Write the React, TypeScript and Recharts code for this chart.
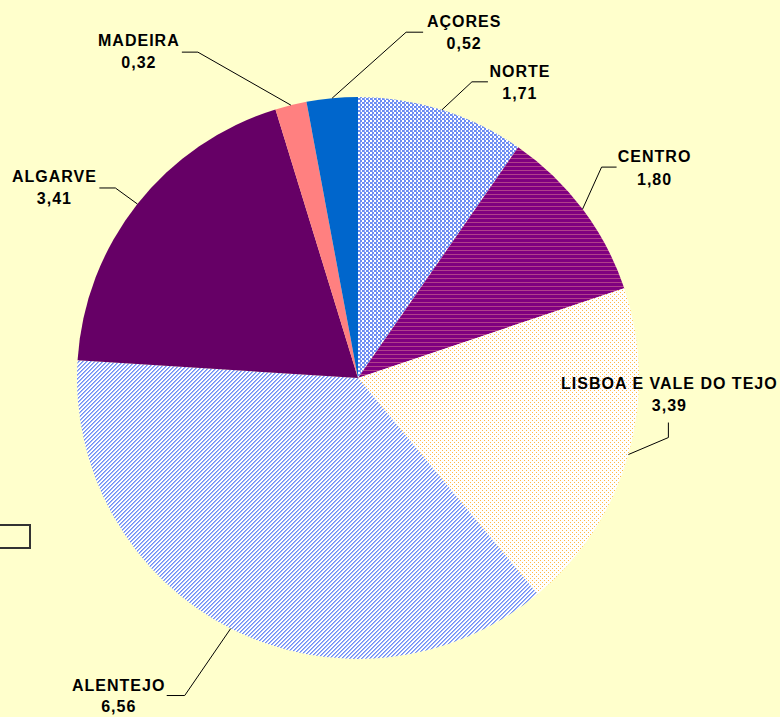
import React from 'react';
import { PieChart, Pie, Cell } from 'recharts';

// regions and their values
const regions = ['NORTE', 'CENTRO', 'LISBOA E VALE DO TEJO', 'ALENTEJO', 'ALGARVE', 'MADEIRA', 'AÇORES'];
const values = [1.71, 1.8, 3.39, 6.56, 3.41, 0.32, 0.52];

// fills: patterns are defined in the hidden svg below
const fills = [
  'url(#pNorte)',
  'url(#pCentro)',
  'url(#pLisboa)',
  'url(#pAlentejo)',
  '#660066',
  '#FF8080',
  '#0066CC',
];

// label layout, relative to where the leader leaves the slice edge
// e = elbow offset, t = tail offset from elbow, n/v = name / value text position from elbow
const labelLayout = [
  { ex: 30, ey: -28, tx: 16, ty: 0, nx: 48, nb: -5, vx: 48, vb: 17 },
  { ex: 19, ey: -42, tx: 15, ty: 0, nx: 53, nb: -5, vx: 53, vb: 18 },
  { ex: 40, ey: -17, tx: 0, ty: -15, nx: 1, nb: -49, vx: 1, vb: -27 },
  { ex: -46, ey: 67, tx: -18, ty: 0, nx: -66, nb: -5, vx: -66, vb: 16 },
  { ex: -22, ey: -16, tx: -16, ty: 0, nx: -61, nb: -6, vx: -61, vb: 16 },
  { ex: -93, ey: -53, tx: -16, ty: 0, nx: -59, nb: -6, vx: -59, vb: 16 },
  { ex: 74, ey: -66, tx: 17, ty: 0, nx: 58, nb: -5, vx: 58, vb: 17 },
];

const data = regions.map((name, i) => ({ name, value: values[i] }));

const RAD = Math.PI / 180;

const renderLabel = (props: any) => {
  const { cx, cy, midAngle, outerRadius, index, name, value } = props;
  const lay = labelLayout[index];
  const sx = cx + outerRadius * Math.cos(-midAngle * RAD);
  const sy = cy + outerRadius * Math.sin(-midAngle * RAD);
  const ex = sx + lay.ex;
  const ey = sy + lay.ey;
  const textStyle = {
    fontFamily: '"Liberation Sans", Arial, sans-serif',
    fontWeight: 700,
    fontSize: 16,
    letterSpacing: 1,
  };
  return (
    <g key={`lbl-${index}`}>
      <polyline
        points={`${sx},${sy} ${ex},${ey} ${ex + lay.tx},${ey + lay.ty}`}
        fill="none"
        stroke="#000"
        strokeWidth={1}
      />
      <text x={ex + lay.nx} y={ey + lay.nb} textAnchor="middle" fill="#000" style={textStyle}>
        {name}
      </text>
      <text x={ex + lay.vx} y={ey + lay.vb} textAnchor="middle" fill="#000" style={textStyle}>
        {Number(value).toFixed(2).replace('.', ',')}
      </text>
    </g>
  );
};

export default function App() {
  return (
    <div
      style={{
        position: 'absolute',
        left: 0,
        top: 0,
        width: 780,
        height: 717,
        background: '#FFFFCC',
        overflow: 'hidden',
      }}
    >
      <svg width={0} height={0} style={{ position: 'absolute' }}>
        <defs>
          <pattern id="pNorte" width={4} height={4} patternUnits="userSpaceOnUse">
            <rect width={4} height={4} fill="#FFFFFF" />
            <rect x={0} y={0} width={2} height={2} fill="#6C8CF2" shapeRendering="crispEdges" />
            <rect x={2} y={2} width={2} height={2} fill="#6C8CF2" shapeRendering="crispEdges" />
            <rect x={0} y={2} width={1} height={2} fill="#8FA8F5" shapeRendering="crispEdges" />
          </pattern>
          <pattern id="pCentro" width={4} height={4} patternUnits="userSpaceOnUse">
            <rect width={4} height={4} fill="#800080" shapeRendering="crispEdges" />
            <rect x={0} y={2} width={4} height={1} fill="#B0408A" shapeRendering="crispEdges" />
          </pattern>
          <pattern id="pLisboa" width={4} height={4} patternUnits="userSpaceOnUse">
            <rect width={4} height={4} fill="#FFFFFF" />
            <rect x={0} y={0} width={1} height={1} fill="#FFB848" shapeRendering="crispEdges" />
            <rect x={2} y={2} width={1} height={1} fill="#FFB848" shapeRendering="crispEdges" />
          </pattern>
          <pattern id="pAlentejo" width={4} height={4} patternUnits="userSpaceOnUse">
            <rect width={4} height={4} fill="#FFFFFF" />
            <rect x={3} y={0} width={1} height={1} fill="#6F8EF5" shapeRendering="crispEdges" />
            <rect x={2} y={1} width={1} height={1} fill="#6F8EF5" shapeRendering="crispEdges" />
            <rect x={1} y={2} width={1} height={1} fill="#6F8EF5" shapeRendering="crispEdges" />
            <rect x={0} y={3} width={1} height={1} fill="#6F8EF5" shapeRendering="crispEdges" />
            <rect x={0} y={0} width={1} height={1} fill="#9FB4F8" shapeRendering="crispEdges" />
            <rect x={3} y={1} width={1} height={1} fill="#9FB4F8" shapeRendering="crispEdges" />
            <rect x={2} y={2} width={1} height={1} fill="#9FB4F8" shapeRendering="crispEdges" />
            <rect x={1} y={3} width={1} height={1} fill="#9FB4F8" shapeRendering="crispEdges" />
          </pattern>
        </defs>
      </svg>

      {/* leftover legend box at the left edge */}
      <div
        style={{
          position: 'absolute',
          left: -4,
          top: 524,
          width: 31,
          height: 21,
          border: '2px solid #333',
        }}
      />

      <PieChart width={780} height={717} margin={{ top: 0, right: 0, bottom: 0, left: 0 }}>
        <Pie
          data={data}
          dataKey="value"
          nameKey="name"
          cx={358}
          cy={378}
          outerRadius={281}
          startAngle={90}
          endAngle={-270}
          stroke="none"
          label={renderLabel}
          labelLine={false}
          isAnimationActive={false}
        >
          {data.map((d, i) => (
            <Cell key={`cell-${d.name}`} fill={fills[i]} />
          ))}
        </Pie>
      </PieChart>
    </div>
  );
}
